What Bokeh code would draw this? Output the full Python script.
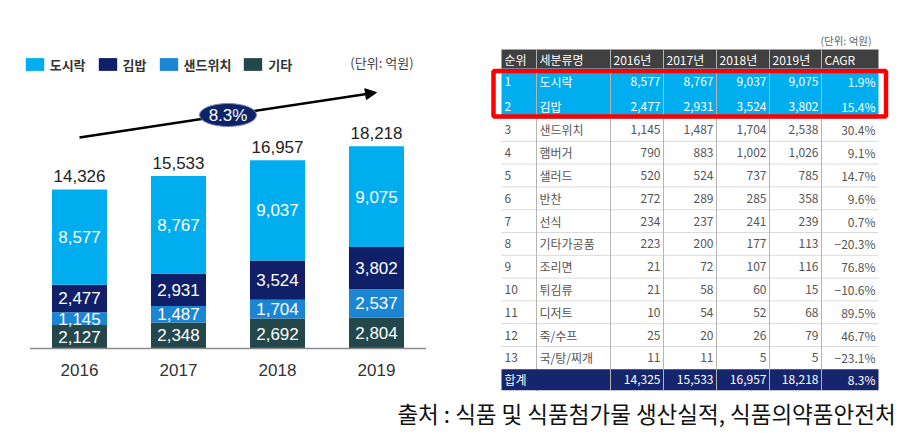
import numpy as np
from bokeh.plotting import figure
from bokeh.models import (ColumnDataSource, Range1d, Legend, LegendItem,
                          Arrow, NormalHead, Label)
from bokeh.layouts import row, column
from bokeh.core.properties import value
from bokeh.embed import file_html
from bokeh.resources import INLINE

# ---------------- data: stacked bar chart ----------------
years = [2016, 2017, 2018, 2019]
series_names = ["도시락", "김밥", "샌드위치", "기타"]
dosirak = [8577, 8767, 9037, 9075]
gimbap = [2477, 2931, 3524, 3802]
sandwich = [1145, 1487, 1704, 2537]
etc = [2127, 2348, 2692, 2804]
totals = [14326, 15533, 16957, 18218]
cagr_label = "8.3%"
unit_label = "(단위: 억원)"

# ---------------- data: table ----------------
table_header = ["순위", "세분류명", "2016년", "2017년", "2018년", "2019년", "CAGR"]
ranks = [1, 2, 3, 4, 5, 6, 7, 8, 9, 10, 11, 12, 13]
names = ["도시락", "김밥", "샌드위치", "햄버거", "샐러드", "반찬", "선식",
         "기타가공품", "조리면", "튀김류", "디저트", "죽/수프", "국/탕/찌개"]
t2016 = [8577, 2477, 1145, 790, 520, 272, 234, 223, 21, 21, 10, 25, 11]
t2017 = [8767, 2931, 1487, 883, 524, 289, 237, 200, 72, 58, 54, 20, 11]
t2018 = [9037, 3524, 1704, 1002, 737, 285, 241, 177, 107, 60, 52, 26, 5]
t2019 = [9075, 3802, 2538, 1026, 785, 358, 239, 113, 116, 15, 68, 79, 5]
cagr = ["1.9%", "15.4%", "30.4%", "9.1%", "14.7%", "9.6%", "0.7%",
        "−20.3%", "76.8%", "−10.6%", "89.5%", "46.7%", "−23.1%"]
total_label = "합계"
total_values = [14325, 15533, 16957, 18218]
total_cagr = "8.3%"
highlight_rows = 2
caption = "출처 : 식품 및 식품첨가물 생산실적, 식품의약품안전처"

# ---------------- styles ----------------
KR = "Noto Sans CJK KR"
LAT = "Liberation Sans"
colors = {"도시락": "#00AEEF", "김밥": "#0F2068", "샌드위치": "#1B86D4", "기타": "#24474B"}
NAVY = "#16266C"

OX, OY = 2, 0          # where the layout starts in the picture
SPLIT = 488            # x where the table panel begins
H_TOP = 398 - OY       # height of chart/table row
BASE_Y = 348           # baseline y in the picture
BAR0_X, BAR_STEP = 81, 99

# ================= left: stacked bars =================
UPP = 90.09  # value units per pixel
WL = SPLIT - OX
p = figure(width=WL, height=H_TOP, output_backend="svg", toolbar_location=None,
           x_range=Range1d(years[0] - (BAR0_X - OX) / BAR_STEP, years[0] + (SPLIT - BAR0_X) / BAR_STEP),
           y_range=Range1d(-(398 - BASE_Y) * UPP, (BASE_Y - OY) * UPP),
           x_axis_location=None, y_axis_location=None, min_border=0)
p.outline_line_color = None
p.xgrid.visible = False
p.ygrid.visible = False

src = ColumnDataSource(dict(x=years, dosirak=dosirak, gimbap=gimbap, sandwich=sandwich, etc=etc))
stack_keys = ["etc", "sandwich", "gimbap", "dosirak"]
stack_names = ["기타", "샌드위치", "김밥", "도시락"]
rs = p.vbar_stack(stack_keys, x="x", width=0.556, source=src,
                  color=[colors[n] for n in stack_names], line_color=None)

stack = np.array([etc, sandwich, gimbap, dosirak], dtype=float)
mid = np.cumsum(stack, axis=0) - stack / 2
lab = ColumnDataSource(dict(
    x=np.tile(years, 4).tolist(), y=mid.flatten().tolist(),
    t=[f"{int(v):,}" for v in stack.flatten()]))
p.text(x="x", y="y", text="t", source=lab, text_align="center", text_baseline="middle",
       text_color="white", text_font=value(LAT), text_font_size="17px")

p.text(x=years, y=totals, text=[f"{v:,}" for v in totals], text_align="center",
       text_baseline="middle", y_offset=-13, text_color="#222222",
       text_font=value(LAT), text_font_size="17px")

p.segment(x0=[years[0] - 0.5], y0=[0], x1=[years[-1] + 0.5], y1=[0],
          line_color="#8c8c8c", line_width=1.5)
p.text(x=years, y=[0] * len(years), text=[str(y) for y in years], text_align="center",
       text_baseline="middle", y_offset=21, text_color="#333333",
       text_font=value(LAT), text_font_size="17px")

# CAGR arrow
ax0, ay0 = years[0], 211 * UPP
ax1, ay1 = years[-1], 256 * UPP
p.add_layout(Arrow(x_start=ax0, y_start=ay0, x_end=ax1, y_end=ay1, level="underlay",
                   line_color="black", line_width=2.5,
                   end=NormalHead(size=11, fill_color="black", line_color="black")))
mx, my = (ax0 + ax1) / 2, (ay0 + ay1) / 2
p.ellipse(x=[mx], y=[my], width=57, height=23, width_units="screen", height_units="screen",
          fill_color="#0C2366", line_color="#7886b8", line_width=1)
p.text(x=[mx], y=[my], text=[cagr_label], text_align="center", text_baseline="middle",
       text_color="white", text_font=value(LAT), text_font_size="17px")

items = [LegendItem(label=n, renderers=[rs[stack_names.index(n)]]) for n in series_names]
legend = Legend(items=items, orientation="horizontal", location=(22.7, 324.5),
                glyph_width=23, glyph_height=16, label_standoff=4, spacing=10,
                padding=0, margin=0, border_line_color=None, background_fill_alpha=0,
                label_text_font=KR, label_text_font_size="13px", label_text_font_style="bold",
                label_text_color="#333333", label_height=14)
p.add_layout(legend)

p.add_layout(Label(x=years[-1] + 0.374, y=286 * UPP, text=unit_label, text_align="right",
                   text_baseline="middle", text_font=KR, text_font_size="13px",
                   text_color="#444444"))

# ================= right: table =================
t = figure(width=914 - SPLIT, height=H_TOP, output_backend="svg", toolbar_location=None,
           x_range=Range1d(SPLIT, 914), y_range=Range1d(398, OY),
           x_axis_location=None, y_axis_location=None, min_border=0)
t.outline_line_color = None
t.xgrid.visible = False
t.ygrid.visible = False

col_edges = [503, 538, 612, 665, 718, 771, 823, 880]
table_top = 49
heights = [19] + [25] * highlight_rows + [22.8] * (len(ranks) - highlight_rows) + [21]
y_edges = np.concatenate([[table_top], table_top + np.cumsum(heights)])
L, R = col_edges[0], col_edges[-1]

t.quad(left=[L], right=[R], top=[y_edges[0]], bottom=[y_edges[1]], fill_color="#404040", line_color=None)
t.quad(left=[L], right=[R], top=[y_edges[1]], bottom=[y_edges[1 + highlight_rows]],
       fill_color="#00AEEF", line_color=None)
t.quad(left=[L], right=[R], top=[y_edges[-2]], bottom=[y_edges[-1]], fill_color=NAVY, line_color=None)

hs = y_edges[2 + highlight_rows:-2]
t.segment(x0=[L] * len(hs), y0=hs, x1=[R] * len(hs), y1=hs, line_color="#DADADA", line_width=1)
vx = col_edges[1:-1]
t.segment(x0=vx, y0=[y_edges[0]] * len(vx), x1=vx, y1=[y_edges[-1]] * len(vx),
          line_color="#B4B4B4", line_width=1)
t.segment(x0=[col_edges[1]], y0=[y_edges[-2]], x1=[col_edges[1]], y1=[y_edges[-1]],
          line_color=NAVY, line_width=2)

t.quad(left=[L - 8], right=[R + 7.5], top=[y_edges[1] + 2.5], bottom=[y_edges[1 + highlight_rows] - 2],
       fill_color=None, line_color="#FF0000", line_width=4.5)

cy = (y_edges[:-1] + y_edges[1:]) / 2
txt_x, txt_y, txt, txt_align, txt_col = [], [], [], [], []
def add(x, y, s, a, c):
    txt_x.append(x); txt_y.append(y); txt.append(s); txt_align.append(a); txt_col.append(c)

for j, h in enumerate(table_header):
    add(col_edges[j] + 3, cy[0], h, "left", "white")
for i in range(len(ranks)):
    c = "white" if i < highlight_rows else "#555555"
    y = cy[i + 1]
    add(col_edges[0] + 3, y, str(ranks[i]), "left", c)
    add(col_edges[1] + 3, y, names[i], "left", c)
    for j, arr in enumerate([t2016, t2017, t2018, t2019]):
        add(col_edges[j + 3] - 3, y, f"{arr[i]:,}", "right", c)
    add(col_edges[7] - 3, y, cagr[i], "right", c)
add(col_edges[0] + 3, cy[-1], total_label, "left", "white")
for j, v in enumerate(total_values):
    add(col_edges[j + 3] - 3, cy[-1], f"{v:,}", "right", "white")
add(col_edges[7] - 3, cy[-1], total_cagr, "right", "white")

tsrc = ColumnDataSource(dict(x=txt_x, y=txt_y, t=txt, a=txt_align, c=txt_col))
t.text(x="x", y="y", text="t", text_align="a", text_color="c", source=tsrc,
       text_baseline="middle", text_font=value(KR), text_font_size="12px")

t.add_layout(Label(x=873, y=40, text=unit_label, text_align="right", text_baseline="middle",
                   text_font=KR, text_font_size="10.5px", text_color="#666666"))

# ================= caption =================
cf = figure(width=914 - OX, height=31, output_backend="svg", toolbar_location=None,
            x_range=Range1d(OX, 914), y_range=Range1d(429, 398),
            x_axis_location=None, y_axis_location=None, min_border=0)
cf.outline_line_color = None
cf.xgrid.visible = False
cf.ygrid.visible = False
cf.add_layout(Label(x=648, y=412, text=caption, text_align="center", text_baseline="middle",
                    text_font=KR, text_font_size="22.5px", text_color="#111111"))

layout = column(row(p, t), cf)
open("out.html", "w").write(file_html(layout, INLINE))
